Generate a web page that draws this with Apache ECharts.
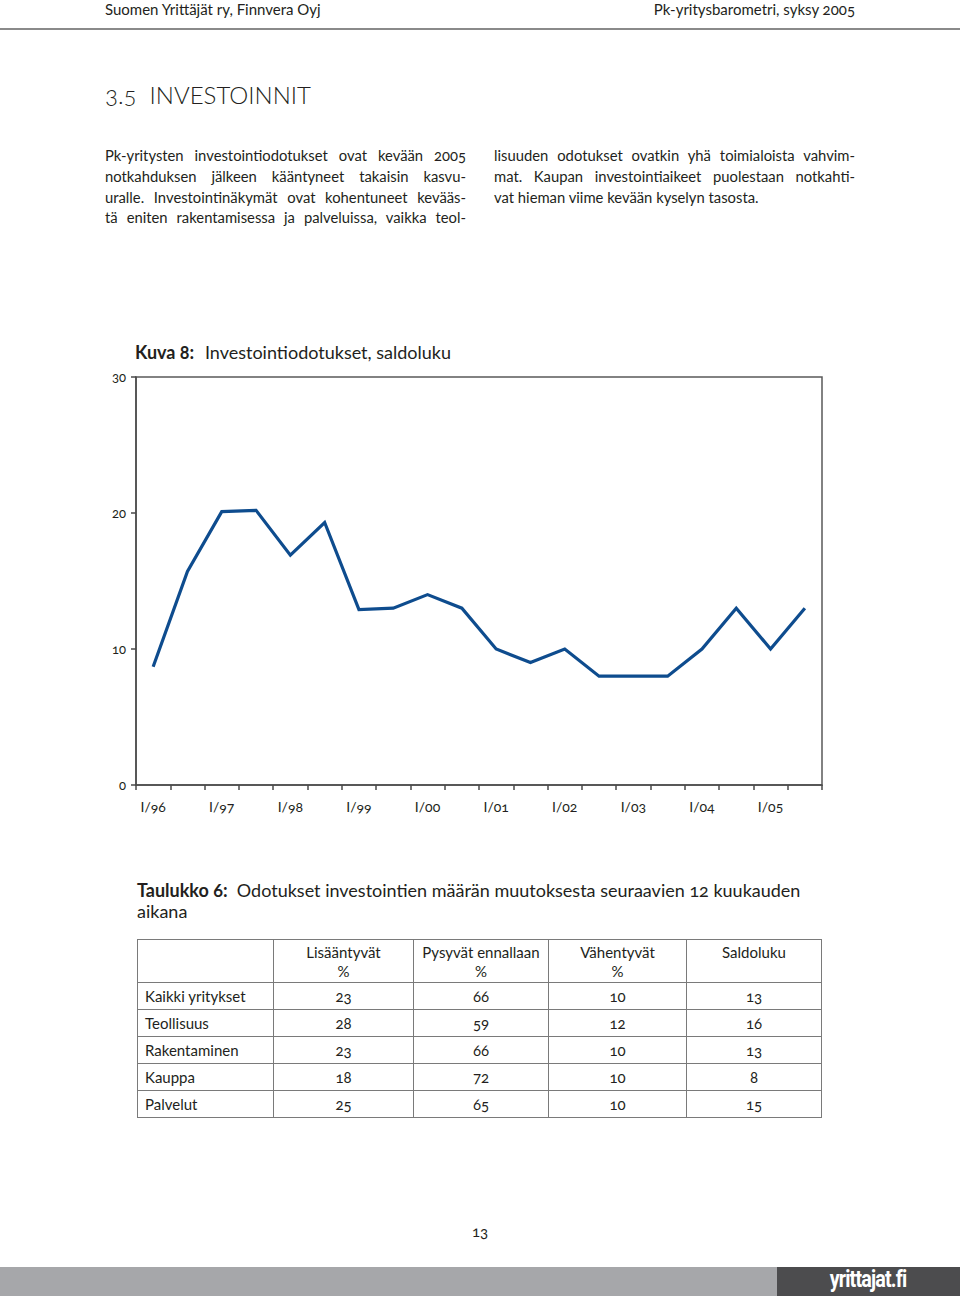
<!DOCTYPE html>
<html><head><meta charset="utf-8">
<script src="https://cdn.jsdelivr.net/npm/echarts@6.0.0/dist/echarts.min.js"></script>
<style>
html,body{margin:0;padding:0;background:#fff;width:960px;height:1296px;overflow:hidden;font-family:Lato,'Noto Sans',sans-serif;color:#231f20;font-variant-numeric:oldstyle-nums;}
#chart text{font-variant-numeric:oldstyle-nums;}
.a{position:absolute;white-space:nowrap;}
.col{position:absolute;font-size:14.8px;line-height:20.8px;}
.col div{text-align:justify;text-align-last:justify;}
.col div.last{text-align-last:left;}
#tbl{position:absolute;left:137px;top:939px;border-collapse:collapse;font-size:15px;}
#tbl td{border:1.5px solid #7a7a7a;padding:0;text-align:center;}
#tbl tr.h td{height:39px;vertical-align:top;line-height:19px;padding-top:3px;}
#tbl tr.r td{height:26px;line-height:26px;}
#tbl td.n{text-align:left;padding-left:7px;}
</style></head>
<body>
<div class="a" style="left:105px;top:-1px;font-size:15px;line-height:20px;">Suomen Yrittäjät ry, Finnvera Oyj</div>
<div class="a" style="right:105px;top:-1px;font-size:15px;line-height:20px;">Pk-yritysbarometri, syksy 2005</div>
<div class="a" style="left:0;top:28px;width:960px;height:2px;background:#8a8a8a;"></div>
<div class="a" style="left:105px;top:80px;font-size:24px;line-height:30px;font-weight:300;">3.5&nbsp;&nbsp;INVESTOINNIT</div>
<div class="col" style="left:105px;top:145px;width:361px;">
<div>Pk-yritysten investointiodotukset ovat kevään 2005</div>
<div>notkahduksen jälkeen kääntyneet takaisin kasvu-</div>
<div>uralle. Investointinäkymät ovat kohentuneet kevääs-</div>
<div>tä eniten rakentamisessa ja palveluissa, vaikka teol-</div>
</div>
<div class="col" style="left:494px;top:145px;width:361px;">
<div>lisuuden odotukset ovatkin yhä toimialoista vahvim-</div>
<div>mat. Kaupan investointiaikeet puolestaan notkahti-</div>
<div class="last">vat hieman viime kevään kyselyn tasosta.</div>
</div>
<div id="chart" class="a" style="left:0;top:320px;width:960px;height:520px;"></div>
<div class="a" style="left:137px;top:880px;font-size:18px;line-height:21px;"><b>Taulukko 6:</b>&nbsp;&nbsp;Odotukset investointien määrän muutoksesta seuraavien 12 kuukauden<br>aikana</div>
<table id="tbl"></table>
<div class="a" style="left:472px;top:1221px;font-size:15px;line-height:20px;">13</div>
<div class="a" style="left:0;top:1267px;width:777px;height:29px;background:#a6a7aa;"></div>
<div class="a" style="left:777px;top:1267px;width:183px;height:29px;background:#4c4c4e;"></div>
<div class="a" style="left:808px;top:1264px;width:120px;text-align:center;color:#fff;font-family:Roboto,sans-serif;font-weight:700;font-size:24px;line-height:30px;letter-spacing:-1px;transform:scaleX(0.82);">yrittajat.fi</div>
<script>
// chart data
var categories = ['I/96','II/96','I/97','II/97','I/98','II/98','I/99','II/99','I/00','II/00',
                  'I/01','II/01','I/02','II/02','I/03','II/03','I/04','II/04','I/05','II/05'];
var saldoluku = [8.7,15.7,20.1,20.2,16.9,19.3,12.9,13.0,14.0,13.0,
                 10,9,10,8,8,8,10,13,10,13];
var yTicks = [0,10,20,30];
// table data
var tableHeaders = [['Lisääntyvät','%'],['Pysyvät ennallaan','%'],['Vähentyvät','%'],['Saldoluku','']];
var tableRows = ['Kaikki yritykset','Teollisuus','Rakentaminen','Kauppa','Palvelut'];
var lisaantyvat = [23,28,23,18,25];
var pysyvat = [66,59,66,72,65];
var vahentyvat = [10,12,10,10,10];
var saldo = [13,16,13,8,15];

(function(){
  var t = document.getElementById('tbl');
  var widths = [135,139,134,137,134];
  var h = '<tr class="h"><td style="width:'+widths[0]+'px"></td>';
  tableHeaders.forEach(function(p,i){ h += '<td style="width:'+widths[i+1]+'px">'+p[0]+'<br>'+(p[1]||'&nbsp;')+'</td>'; });
  h += '</tr>';
  tableRows.forEach(function(r,i){
    h += '<tr class="r"><td class="n">'+r+'</td><td>'+lisaantyvat[i]+'</td><td>'+pysyvat[i]+'</td><td>'+vahentyvat[i]+'</td><td>'+saldo[i]+'</td></tr>';
  });
  t.innerHTML = h;
})();

var chart = echarts.init(document.getElementById('chart'), null, {renderer:'svg'});
chart.setOption({
  animation:false,
  title:{
    left:130, top:18,
    text:'{b|Kuva 8:}  {n|Investointiodotukset, saldoluku}',
    textStyle:{fontWeight:'normal',rich:{
      b:{fontFamily:'Lato',fontWeight:'bold',fontSize:18,color:'#231f20'},
      n:{fontFamily:'Lato',fontWeight:'normal',fontSize:18,color:'#231f20'}
    }}
  },
  grid:{left:136,top:57,width:686,height:408,show:true,borderColor:'#5a5a5a',borderWidth:1.5,backgroundColor:'transparent'},
  xAxis:{
    type:'category', data:categories, boundaryGap:true,
    axisLine:{lineStyle:{color:'#4a4a4a',width:1.5}},
    axisTick:{show:true,interval:0,length:5,lineStyle:{color:'#4a4a4a',width:1.5}},
    axisLabel:{interval:1,margin:14,fontFamily:'Lato',fontSize:14,color:'#231f20'},
    splitLine:{show:false}
  },
  yAxis:{
    type:'value', min:yTicks[0], max:yTicks[yTicks.length-1], interval:10,
    axisLine:{show:true,lineStyle:{color:'#4a4a4a',width:1.5}},
    axisTick:{show:true,length:5,lineStyle:{color:'#4a4a4a',width:1.5}},
    axisLabel:{margin:10,fontFamily:'Lato',fontSize:13,color:'#231f20'},
    splitLine:{show:false}
  },
  series:[{
    type:'line', data:saldoluku, symbol:'none',
    lineStyle:{color:'#0e4c8e',width:3.2,join:'miter'}
  }]
});
</script>
</body></html>
